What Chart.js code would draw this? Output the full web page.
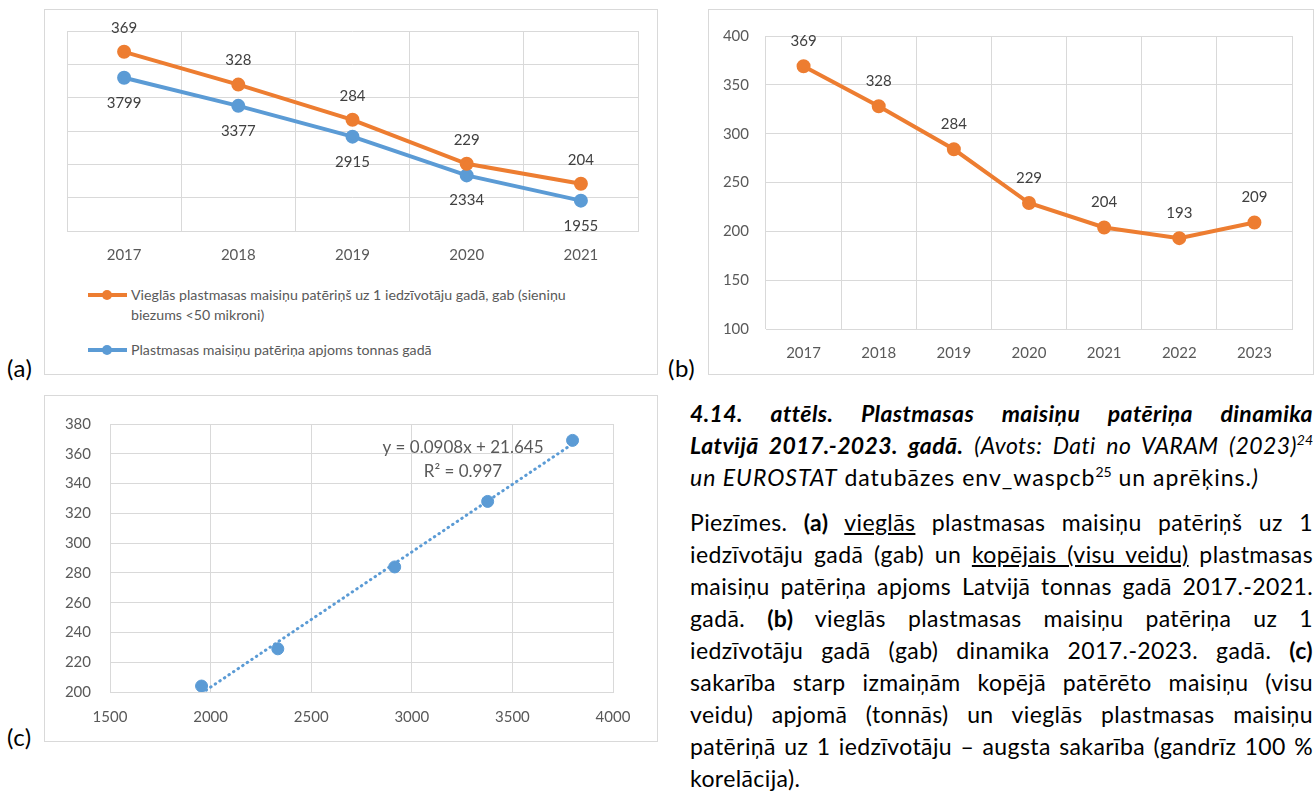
<!DOCTYPE html>
<html lang="lv">
<head>
<meta charset="UTF-8">
<title>Plastmasas maisiņu patēriņa dinamika</title>
<script src="https://cdn.jsdelivr.net/npm/chart.js"></script>
<style>
  body { margin: 0; width: 1315px; height: 791px; overflow: hidden; background: #fff; position: relative; font-family: Lato, sans-serif; }
  .frame { position: absolute; border: 1px solid #d9d9d9; box-sizing: border-box; }
  canvas { position: absolute; }
  .tag { position: absolute; font-size: 24px; line-height: 24px; color: #000; letter-spacing: 0.5px; }
  .legend { position: absolute; font-size: 14.2px; line-height: 20px; color: #595959; }
  .mark { position: absolute; width: 39px; height: 4px; }
  .mark span { position: absolute; left: 14px; top: -3px; width: 10px; height: 10px; border-radius: 50%; }
  .para { position: absolute; left: 690px; width: 623px; font-size: 23px; line-height: 32px; color: #000; letter-spacing: 0.4px; }
  .para div { white-space: nowrap; }
  .j { text-align: justify; text-align-last: justify; }
  sup { font-size: 14px; line-height: 0; vertical-align: 9px; letter-spacing: 0; }
</style>
</head>
<body>
  <div class="frame" style="left:44px;top:9px;width:614px;height:366px"></div>
  <div class="frame" style="left:708px;top:9px;width:606px;height:366px"></div>
  <div class="frame" style="left:44px;top:395px;width:614px;height:347px"></div>

  <canvas id="chartA" width="611" height="265" style="left:45px;top:10px"></canvas>
  <canvas id="chartB" width="602" height="363" style="left:710px;top:10px"></canvas>
  <canvas id="chartC" width="611" height="344" style="left:45px;top:396px"></canvas>

  <!-- legend of chart (a) -->
  <div class="mark" style="left:88px;top:293px;background:#ED7D31"><span style="background:#ED7D31"></span></div>
  <div class="legend" style="left:131px;top:285px">Vieglās plastmasas maisiņu patēriņš uz 1 iedzīvotāju gadā, gab (sieniņu<br>biezums &lt;50 mikroni)</div>
  <div class="mark" style="left:88px;top:348px;background:#5B9BD5"><span style="background:#5B9BD5"></span></div>
  <div class="legend" style="left:131px;top:340px">Plastmasas maisiņu patēriņa apjoms tonnas gadā</div>

  <div class="tag" style="left:7px;top:356px">(a)</div>
  <div class="tag" style="left:668px;top:356px">(b)</div>
  <div class="tag" style="left:7px;top:725px">(c)</div>

  <div class="para" style="top:397px">
    <div class="j"><b><i>4.14. attēls. Plastmasas maisiņu patēriņa dinamika</i></b></div>
    <div class="j"><b><i>Latvijā 2017.-2023. gadā.</i></b> <i>(Avots: Dati no VARAM (2023)<sup>24</sup></i></div>
    <div style="letter-spacing:1px"><i>un EUROSTAT</i> datubāzes env_waspcb<sup>25</sup> un aprēķins.<i>)</i></div>
  </div>

  <div class="para" style="top:506px">
    <div class="j">Piezīmes. <b>(a)</b> <u>vieglās</u> plastmasas maisiņu patēriņš uz 1</div>
    <div class="j">iedzīvotāju gadā (gab) un <u>kopējais (visu veidu)</u> plastmasas</div>
    <div class="j">maisiņu patēriņa apjoms Latvijā tonnas gadā 2017.-2021.</div>
    <div class="j">gadā. <b>(b)</b> vieglās plastmasas maisiņu patēriņa uz 1</div>
    <div class="j">iedzīvotāju gadā (gab) dinamika 2017.-2023. gadā. <b>(c)</b></div>
    <div class="j">sakarība starp izmaiņām kopējā patērēto maisiņu (visu</div>
    <div class="j">veidu) apjomā (tonnās) un vieglās plastmasas maisiņu</div>
    <div class="j">patēriņā uz 1 iedzīvotāju – augsta sakarība (gandrīz 100 %</div>
    <div>korelācija).</div>
  </div>

<script>
// data
var yearsA = ['2017', '2018', '2019', '2020', '2021'];
var perCapitaA = [369, 328, 284, 229, 204];      // gab uz 1 iedzīvotāju
var tonnesA = [3799, 3377, 2915, 2334, 1955];     // tonnas gadā

var yearsB = ['2017', '2018', '2019', '2020', '2021', '2022', '2023'];
var perCapitaB = [369, 328, 284, 229, 204, 193, 209];

// trendline of chart (c), as printed on it
var trendSlope = 0.0908;
var trendIntercept = 21.645;
var trendR2 = 0.997;

var ORANGE = '#ED7D31';
var BLUE = '#5B9BD5';
var GRID = '#d9d9d9';
var TICK = '#595959';

Chart.defaults.font.family = 'Lato';
Chart.defaults.font.size = 15;
Chart.defaults.color = TICK;

// value labels next to points
var valueLabels = {
    id: 'valueLabels',
    afterDatasetsDraw: function (chart) {
        var ctx = chart.ctx;
        chart.data.datasets.forEach(function (ds, i) {
            if (ds.labelOffset == null) return;
            chart.getDatasetMeta(i).data.forEach(function (pt, j) {
                ctx.save();
                ctx.font = '15px Lato';
                ctx.fillStyle = '#404040';
                ctx.textAlign = 'center';
                ctx.textBaseline = 'middle';
                ctx.fillText(ds.data[j], pt.x, pt.y + ds.labelOffset);
                ctx.restore();
            });
        });
    }
};

function lineSet(label, data, color, offset, axis) {
    return {
        label: label, data: data, yAxisID: axis,
        borderColor: color, backgroundColor: color,
        borderWidth: 4, pointRadius: 5, pointHoverRadius: 5,
        tension: 0, labelOffset: offset
    };
}

function plain(v) { return String(v); }

// (a)
new Chart(document.getElementById('chartA'), {
    type: 'line',
    data: {
        labels: yearsA,
        datasets: [
            lineSet('Vieglās plastmasas maisiņu patēriņš uz 1 iedzīvotāju gadā, gab (sieniņu biezums <50 mikroni)', perCapitaA, ORANGE, -24, 'y1'),
            lineSet('Plastmasas maisiņu patēriņa apjoms tonnas gadā', tonnesA, BLUE, 25, 'y')
        ]
    },
    options: {
        responsive: false, animation: false,
        layout: { padding: { left: 22, right: 18, top: 21, bottom: 0 } },
        plugins: { legend: { display: false }, tooltip: { enabled: false } },
        scales: {
            x: {
                offset: true,
                grid: { offset: true, color: GRID, drawTicks: false },
                border: { color: GRID },
                ticks: { padding: 15 },
                afterFit: function (s) { s.height = 44; }
            },
            y: {
                position: 'left', min: 1500, max: 4500,
                ticks: { stepSize: 500, display: false },
                grid: { color: GRID, drawTicks: false },
                border: { display: false },
                afterFit: function (s) { s.width = 0; }
            },
            y1: { position: 'right', min: 145, max: 395, display: false }
        }
    },
    plugins: [valueLabels]
});

// (b)
new Chart(document.getElementById('chartB'), {
    type: 'line',
    data: {
        labels: yearsB,
        datasets: [lineSet('Vieglās plastmasas maisiņu patēriņš', perCapitaB, ORANGE, -25, 'y')]
    },
    options: {
        responsive: false, animation: false,
        layout: { padding: { left: 0, right: 20, top: 21, bottom: 0 } },
        plugins: { legend: { display: false }, tooltip: { enabled: false } },
        scales: {
            x: {
                offset: true,
                grid: { offset: true, color: GRID, drawTicks: false },
                border: { color: GRID },
                ticks: { padding: 15 },
                afterFit: function (s) { s.height = 44; }
            },
            y: {
                min: 100, max: 400,
                ticks: { stepSize: 50, padding: 17 },
                grid: { color: GRID, drawTicks: false },
                border: { display: false },
                afterFit: function (s) { s.width = 56; }
            }
        }
    },
    plugins: [valueLabels]
});

// (c)
var scatterPoints = tonnesA.map(function (t, i) { return { x: t, y: perCapitaA[i] }; });
var xLo = Math.min.apply(null, tonnesA), xHi = Math.max.apply(null, tonnesA);
var trendPoints = [
    { x: xLo, y: trendSlope * xLo + trendIntercept },
    { x: xHi, y: trendSlope * xHi + trendIntercept }
];

var trendText = {
    id: 'trendText',
    afterDatasetsDraw: function (chart) {
        var ctx = chart.ctx;
        ctx.save();
        ctx.font = '17px Lato';
        ctx.fillStyle = TICK;
        ctx.textAlign = 'center';
        ctx.textBaseline = 'middle';
        ctx.fillText('y = ' + trendSlope + 'x + ' + trendIntercept, 418, 52);
        ctx.fillText('R² = ' + trendR2, 418, 76);
        ctx.restore();
    }
};

new Chart(document.getElementById('chartC'), {
    type: 'scatter',
    data: {
        datasets: [
            {
                data: trendPoints, showLine: true, pointRadius: 0,
                borderColor: BLUE, borderWidth: 3, borderDash: [0.5, 5], borderCapStyle: 'round'
            },
            { data: scatterPoints, pointRadius: 6, pointHoverRadius: 6, backgroundColor: BLUE, borderColor: BLUE }
        ]
    },
    options: {
        responsive: false, animation: false,
        layout: { padding: { left: 0, right: 43, top: 23, bottom: 0 } },
        plugins: { legend: { display: false }, tooltip: { enabled: false } },
        scales: {
            x: {
                min: 1500, max: 4000,
                ticks: { stepSize: 500, padding: 16, callback: plain },
                grid: { color: GRID, drawTicks: false },
                border: { color: GRID },
                afterFit: function (s) { s.height = 48; }
            },
            y: {
                min: 200, max: 380,
                ticks: { stepSize: 20, padding: 19, callback: plain },
                grid: { color: GRID, drawTicks: false },
                border: { color: GRID },
                afterFit: function (s) { s.width = 65; }
            }
        }
    },
    plugins: [trendText]
});
</script>
</body>
</html>
